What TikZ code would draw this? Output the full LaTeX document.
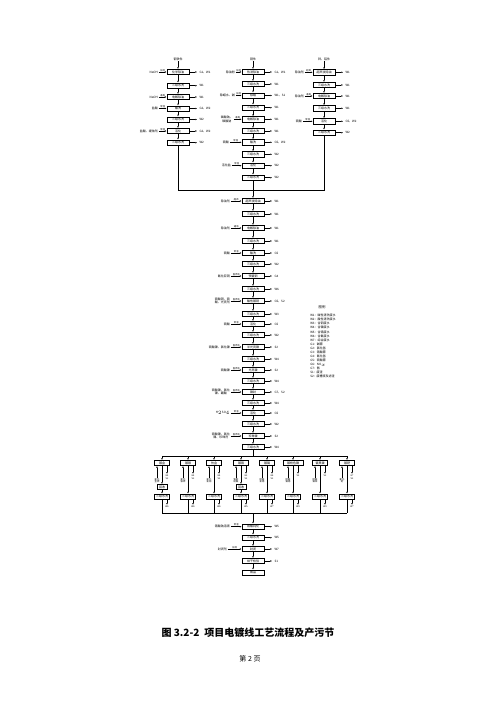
\documentclass[tikz,border=0pt]{standalone}
\usepackage{fontspec}
\setmainfont{Noto Sans CJK SC}
\usetikzlibrary{positioning,arrows.meta}

\tikzset{
  box/.style={draw, minimum width=22pt, minimum height=5.4pt, inner sep=0.2pt, font=\fontsize{3}{3.4}\selectfont},
  bbox/.style={box, minimum width=15pt},
  sbox/.style={box, minimum width=10pt},
  tag/.style={inner sep=0.6pt, align=center, font=\fontsize{3}{3.4}\selectfont},
  outtag/.style={tag, inner sep=2pt},
  note/.style={inner sep=0.5pt, align=center, font=\fontsize{2.3}{2.6}\selectfont},
}

\begin{document}
\begin{tikzpicture}[x=1pt, y=-1pt, line width=0.5pt, >={Latex[length=2pt,width=1.6pt]}]
\useasboundingbox (0,0) rectangle (500,707);

% steel parts
\node[name=steel_top, tag] at (178,59) {钢铁件};
\node[name=steel_1, box] at (178,72) {化学除油};
\node[name=steel_2, box] at (178,85.7) {三级水洗};
\node[name=steel_3, box] at (178,97) {电解除油};
\node[name=steel_4, box] at (178,108.5) {酸洗};
\node[name=steel_5, box] at (178,119.5) {三级水洗};
\node[name=steel_6, box] at (178,131) {活化};
\node[name=steel_7, box] at (178,142.7) {三级水洗};
\node[name=steel_1_in, tag, left=8pt of steel_1] {NaOH};
\node[name=steel_3_in, tag, left=8pt of steel_3] {NaOH};
\node[name=steel_4_in, tag, left=8pt of steel_4] {盐酸};
\node[name=steel_6_in, tag, left=8pt of steel_6] {盐酸、缓蚀剂};
\node[name=steel_1_out, outtag, right=8pt of steel_1] {G1、W1};
\node[name=steel_2_out, outtag, right=8pt of steel_2] {W1};
\node[name=steel_3_out, outtag, right=8pt of steel_3] {W1};
\node[name=steel_4_out, outtag, right=8pt of steel_4] {G2、W2};
\node[name=steel_5_out, outtag, right=8pt of steel_5] {W2};
\node[name=steel_6_out, outtag, right=8pt of steel_6] {G2、W2};
\node[name=steel_7_out, outtag, right=8pt of steel_7] {W2};

\draw(steel_top.south) edge[->](steel_1.north);
\draw(steel_1.south) edge[->](steel_2.north);
\draw(steel_2.south) edge[->](steel_3.north);
\draw(steel_3.south) edge[->](steel_4.north);
\draw(steel_4.south) edge[->](steel_5.north);
\draw(steel_5.south) edge[->](steel_6.north);
\draw(steel_6.south) edge[->](steel_7.north);
\draw(steel_1_in.east) edge[->]node[note,above]{加热}(steel_1.west);
\draw(steel_3_in.east) edge[->]node[note,above]{通电}(steel_3.west);
\draw(steel_4_in.east) edge[->]node[note,above]{常温}(steel_4.west);
\draw(steel_6_in.east) edge[->]node[note,above]{常温}(steel_6.west);
\draw(steel_1.east) edge[->](steel_1_out.west);
\draw(steel_2.east) edge[->](steel_2_out.west);
\draw(steel_3.east) edge[->](steel_3_out.west);
\draw(steel_4.east) edge[->](steel_4_out.west);
\draw(steel_5.east) edge[->](steel_5_out.west);
\draw(steel_6.east) edge[->](steel_6_out.west);
\draw(steel_7.east) edge[->](steel_7_out.west);

% copper parts
\node[name=copper_top, tag] at (253,59) {铜件};
\node[name=copper_1, box] at (253,72) {热浸除油};
\node[name=copper_2, box] at (253,84) {三级水洗};
\node[name=copper_3, box] at (253,95.5) {除蜡};
\node[name=copper_4, box] at (253,107.7) {三级水洗};
\node[name=copper_5, box] at (253,119.3) {电解除油};
\node[name=copper_6, box] at (253,131) {三级水洗};
\node[name=copper_7, box] at (253,142.3) {酸洗};
\node[name=copper_8, box] at (253,154.3) {三级水洗};
\node[name=copper_9, box] at (253,165.7) {活化};
\node[name=copper_10, box] at (253,177.7) {三级水洗};
\node[name=copper_1_in, tag, left=6pt of copper_1] {除油粉};
\node[name=copper_3_in, tag, left=6pt of copper_3] {除蜡水、碱};
\node[name=copper_5_in, tag, left=8pt of copper_5] {磷酸钠、\\碳酸钠};
\node[name=copper_7_in, tag, left=12pt of copper_7] {硫酸};
\node[name=copper_9_in, tag, left=10pt of copper_9] {活化盐};
\node[name=copper_1_out, outtag, right=8pt of copper_1] {G1、W1};
\node[name=copper_2_out, outtag, right=8pt of copper_2] {W1};
\node[name=copper_3_out, outtag, right=8pt of copper_3] {W1、S1};
\node[name=copper_4_out, outtag, right=8pt of copper_4] {W1};
\node[name=copper_5_out, outtag, right=8pt of copper_5] {W1};
\node[name=copper_6_out, outtag, right=8pt of copper_6] {W1};
\node[name=copper_7_out, outtag, right=8pt of copper_7] {G5、W2};
\node[name=copper_8_out, outtag, right=8pt of copper_8] {W2};
\node[name=copper_9_out, outtag, right=8pt of copper_9] {W2};
\node[name=copper_10_out, outtag, right=8pt of copper_10] {W2};

\draw(copper_top.south) edge[->](copper_1.north);
\draw(copper_1.south) edge[->](copper_2.north);
\draw(copper_2.south) edge[->](copper_3.north);
\draw(copper_3.south) edge[->](copper_4.north);
\draw(copper_4.south) edge[->](copper_5.north);
\draw(copper_5.south) edge[->](copper_6.north);
\draw(copper_6.south) edge[->](copper_7.north);
\draw(copper_7.south) edge[->](copper_8.north);
\draw(copper_8.south) edge[->](copper_9.north);
\draw(copper_9.south) edge[->](copper_10.north);
\draw(copper_1_in.east) edge[->]node[note,above]{加热}(copper_1.west);
\draw(copper_3_in.east) edge[->]node[note,above]{加热}(copper_3.west);
\draw(copper_5_in.east) edge[->]node[note,above]{通电}(copper_5.west);
\draw(copper_7_in.east) edge[->]node[note,above]{常温}(copper_7.west);
\draw(copper_9_in.east) edge[->]node[note,above]{常温}(copper_9.west);
\draw(copper_1.east) edge[->](copper_1_out.west);
\draw(copper_2.east) edge[->](copper_2_out.west);
\draw(copper_3.east) edge[->](copper_3_out.west);
\draw(copper_4.east) edge[->](copper_4_out.west);
\draw(copper_5.east) edge[->](copper_5_out.west);
\draw(copper_6.east) edge[->](copper_6_out.west);
\draw(copper_7.east) edge[->](copper_7_out.west);
\draw(copper_8.east) edge[->](copper_8_out.west);
\draw(copper_9.east) edge[->](copper_9_out.west);
\draw(copper_10.east) edge[->](copper_10_out.west);

% zinc / aluminium parts
\node[name=zinc_top, tag] at (324,59) {锌、铝件};
\node[name=zinc_1, box] at (324,72.3) {超声波除油};
\node[name=zinc_2, box] at (324,85) {三级水洗};
\node[name=zinc_3, box] at (324,96) {电解除油};
\node[name=zinc_4, box] at (324,108.3) {三级水洗};
\node[name=zinc_5, box] at (324,121.3) {活化};
\node[name=zinc_6, box] at (324,132.7) {三级水洗};
\node[name=zinc_1_in, tag, left=8pt of zinc_1] {除油剂};
\node[name=zinc_3_in, tag, left=8pt of zinc_3] {除油剂};
\node[name=zinc_5_in, tag, left=10pt of zinc_5] {硫酸};
\node[name=zinc_1_out, outtag, right=8pt of zinc_1] {W1};
\node[name=zinc_2_out, outtag, right=8pt of zinc_2] {W1};
\node[name=zinc_3_out, outtag, right=8pt of zinc_3] {W1};
\node[name=zinc_4_out, outtag, right=8pt of zinc_4] {W1};
\node[name=zinc_5_out, outtag, right=8pt of zinc_5] {G5、W2};
\node[name=zinc_6_out, outtag, right=8pt of zinc_6] {W2};

\draw(zinc_top.south) edge[->](zinc_1.north);
\draw(zinc_1.south) edge[->](zinc_2.north);
\draw(zinc_2.south) edge[->](zinc_3.north);
\draw(zinc_3.south) edge[->](zinc_4.north);
\draw(zinc_4.south) edge[->](zinc_5.north);
\draw(zinc_5.south) edge[->](zinc_6.north);
\draw(zinc_1_in.east) edge[->]node[note,above]{超声}(zinc_1.west);
\draw(zinc_3_in.east) edge[->]node[note,above]{通电}(zinc_3.west);
\draw(zinc_5_in.east) edge[->]node[note,above]{常温}(zinc_5.west);
\draw(zinc_1.east) edge[->](zinc_1_out.west);
\draw(zinc_2.east) edge[->](zinc_2_out.west);
\draw(zinc_3.east) edge[->](zinc_3_out.west);
\draw(zinc_4.east) edge[->](zinc_4_out.west);
\draw(zinc_5.east) edge[->](zinc_5_out.west);
\draw(zinc_6.east) edge[->](zinc_6_out.west);

% main line
\node[name=main_1, box] at (253,201) {超声波除油};
\node[name=main_2, box] at (253,214) {三级水洗};
\node[name=main_3, box] at (253,228) {电解除油};
\node[name=main_4, box] at (253,241) {三级水洗};
\node[name=main_5, box] at (253,253) {酸洗};
\node[name=main_6, box] at (253,264) {三级水洗};
\node[name=main_7, box] at (253,276) {预镀铜};
\node[name=main_8, box] at (253,289) {三级水洗};
\node[name=main_9, box] at (253,301) {酸性镀铜};
\node[name=main_10, box] at (253,314) {三级水洗};
\node[name=main_11, box] at (253,324) {活化};
\node[name=main_12, box] at (253,335) {三级水洗};
\node[name=main_13, box] at (253,347) {半光亮镍};
\node[name=main_14, box] at (253,359) {三级水洗};
\node[name=main_15, box] at (253,370) {光亮镍};
\node[name=main_16, box] at (253,381) {三级水洗};
\node[name=main_17, box] at (253,392) {镍封};
\node[name=main_18, box] at (253,403) {三级水洗};
\node[name=main_19, box] at (253,413) {活化};
\node[name=main_20, box] at (253,424) {三级水洗};
\node[name=main_21, box] at (253,436) {珍珠镍};
\node[name=main_22, box] at (253,447) {三级水洗};
\node[name=main_1_in, tag, left=11pt of main_1] {除油剂};
\node[name=main_3_in, tag, left=11pt of main_3] {除油剂};
\node[name=main_5_in, tag, left=11pt of main_5] {硫酸};
\node[name=main_7_in, tag, left=11pt of main_7] {氰化亚铜};
\node[name=main_9_in, tag, left=11pt of main_9] {硫酸铜、硫\\酸、光亮剂};
\node[name=main_11_in, tag, left=11pt of main_11] {硫酸};
\node[name=main_13_in, tag, left=11pt of main_13] {硫酸镍、氯化镍};
\node[name=main_15_in, tag, left=11pt of main_15] {硫酸镍};
\node[name=main_17_in, tag, left=11pt of main_17] {硫酸镍、氯化\\镍、硼酸};
\node[name=main_19_in, tag, left=11pt of main_19] {H$_2$SO$_4$};
\node[name=main_21_in, tag, left=11pt of main_21] {硫酸镍、氯化\\镍、珍珠剂};
\node[name=main_1_out, outtag, right=8pt of main_1] {W1};
\node[name=main_2_out, outtag, right=8pt of main_2] {W1};
\node[name=main_3_out, outtag, right=8pt of main_3] {W1};
\node[name=main_4_out, outtag, right=8pt of main_4] {W1};
\node[name=main_5_out, outtag, right=8pt of main_5] {G5};
\node[name=main_6_out, outtag, right=8pt of main_6] {W2};
\node[name=main_7_out, outtag, right=8pt of main_7] {G4};
\node[name=main_8_out, outtag, right=8pt of main_8] {W6};
\node[name=main_9_out, outtag, right=8pt of main_9] {G5、S2};
\node[name=main_10_out, outtag, right=8pt of main_10] {W3};
\node[name=main_11_out, outtag, right=8pt of main_11] {G5};
\node[name=main_12_out, outtag, right=8pt of main_12] {W2};
\node[name=main_13_out, outtag, right=8pt of main_13] {S2};
\node[name=main_14_out, outtag, right=8pt of main_14] {W4};
\node[name=main_15_out, outtag, right=8pt of main_15] {S2};
\node[name=main_16_out, outtag, right=8pt of main_16] {W4};
\node[name=main_17_out, outtag, right=8pt of main_17] {G7、S2};
\node[name=main_18_out, outtag, right=8pt of main_18] {W4};
\node[name=main_19_out, outtag, right=8pt of main_19] {G5};
\node[name=main_20_out, outtag, right=8pt of main_20] {W2};
\node[name=main_21_out, outtag, right=8pt of main_21] {S2};
\node[name=main_22_out, outtag, right=8pt of main_22] {W4};

\coordinate (merge) at (253,190);
\draw(steel_7.south) |- (merge);
\draw(zinc_6.south) |- (merge);
\draw(copper_10.south) edge[->](main_1.north);
\draw(main_1.south) edge[->](main_2.north);
\draw(main_2.south) edge[->](main_3.north);
\draw(main_3.south) edge[->](main_4.north);
\draw(main_4.south) edge[->](main_5.north);
\draw(main_5.south) edge[->](main_6.north);
\draw(main_6.south) edge[->](main_7.north);
\draw(main_7.south) edge[->](main_8.north);
\draw(main_8.south) edge[->](main_9.north);
\draw(main_9.south) edge[->](main_10.north);
\draw(main_10.south) edge[->](main_11.north);
\draw(main_11.south) edge[->](main_12.north);
\draw(main_12.south) edge[->](main_13.north);
\draw(main_13.south) edge[->](main_14.north);
\draw(main_14.south) edge[->](main_15.north);
\draw(main_15.south) edge[->](main_16.north);
\draw(main_16.south) edge[->](main_17.north);
\draw(main_17.south) edge[->](main_18.north);
\draw(main_18.south) edge[->](main_19.north);
\draw(main_19.south) edge[->](main_20.north);
\draw(main_20.south) edge[->](main_21.north);
\draw(main_21.south) edge[->](main_22.north);
\draw(main_1_in.east) edge[->]node[note,above]{超声}(main_1.west);
\draw(main_3_in.east) edge[->]node[note,above]{通电}(main_3.west);
\draw(main_5_in.east) edge[->]node[note,above]{常温}(main_5.west);
\draw(main_7_in.east) edge[->]node[note,above]{直流电}(main_7.west);
\draw(main_9_in.east) edge[->]node[note,above]{直流电}(main_9.west);
\draw(main_11_in.east) edge[->]node[note,above]{常温}(main_11.west);
\draw(main_13_in.east) edge[->]node[note,above]{直流电}(main_13.west);
\draw(main_15_in.east) edge[->]node[note,above]{直流电}(main_15.west);
\draw(main_17_in.east) edge[->]node[note,above]{直流电}(main_17.west);
\draw(main_19_in.east) edge[->]node[note,above]{常温}(main_19.west);
\draw(main_21_in.east) edge[->]node[note,above]{直流电}(main_21.west);
\draw(main_1.east) edge[->](main_1_out.west);
\draw(main_2.east) edge[->](main_2_out.west);
\draw(main_3.east) edge[->](main_3_out.west);
\draw(main_4.east) edge[->](main_4_out.west);
\draw(main_5.east) edge[->](main_5_out.west);
\draw(main_6.east) edge[->](main_6_out.west);
\draw(main_7.east) edge[->](main_7_out.west);
\draw(main_8.east) edge[->](main_8_out.west);
\draw(main_9.east) edge[->](main_9_out.west);
\draw(main_10.east) edge[->](main_10_out.west);
\draw(main_11.east) edge[->](main_11_out.west);
\draw(main_12.east) edge[->](main_12_out.west);
\draw(main_13.east) edge[->](main_13_out.west);
\draw(main_14.east) edge[->](main_14_out.west);
\draw(main_15.east) edge[->](main_15_out.west);
\draw(main_16.east) edge[->](main_16_out.west);
\draw(main_17.east) edge[->](main_17_out.west);
\draw(main_18.east) edge[->](main_18_out.west);
\draw(main_19.east) edge[->](main_19_out.west);
\draw(main_20.east) edge[->](main_20_out.west);
\draw(main_21.east) edge[->](main_21_out.west);
\draw(main_22.east) edge[->](main_22_out.west);

% parallel plating branches
\node[name=branch_1, bbox] at (162,463) {镀金};
\node[name=branch_2, bbox] at (188,463) {镀银};
\node[name=branch_3, bbox] at (214,463) {仿金};
\node[name=branch_4, bbox] at (241,463) {镀铬};
\node[name=branch_5, bbox] at (267,463) {镀锡};
\node[name=branch_6, bbox, minimum width=20pt] at (293,463) {镀枪色镍};
\node[name=branch_7, bbox] at (320,463) {镀黑镍};
\node[name=branch_8, bbox] at (347,463) {镀钯};
\node[name=branch_1_in, note, anchor=north] at (157,477.5) {氰化\\金钾};
\node[name=branch_2_in, note, anchor=north] at (183,477.5) {氰化\\银钾};
\node[name=branch_3_in, note, anchor=north] at (209,477.5) {氰化\\亚铜};
\node[name=branch_4_in, note, anchor=north] at (236,477.5) {铬酐\\硫酸};
\node[name=branch_5_in, note, anchor=north] at (262,477.5) {硫酸\\亚锡};
\node[name=branch_6_in, note, anchor=north] at (288,477.5) {硫酸\\镍锡};
\node[name=branch_7_in, note, anchor=north] at (315,477.5) {硫酸\\镍锌};
\node[name=branch_8_in, note, anchor=north] at (342,477.5) {氯化\\钯};
\node[name=branch_1_out, note, anchor=north] at (167,474) {G4\\S2};
\node[name=branch_2_out, note, anchor=north] at (193,474) {G4\\S2};
\node[name=branch_3_out, note, anchor=north] at (219,474) {G4\\S2};
\node[name=branch_4_out, note, anchor=north] at (246,474) {G3\\S2};
\node[name=branch_5_out, note, anchor=north] at (272,474) {G5\\S2};
\node[name=branch_6_out, note, anchor=north] at (298,474) {S2};
\node[name=branch_7_out, note, anchor=north] at (325,474) {S2};
\node[name=branch_8_out, note, anchor=north] at (352,474) {G7\\S2};
\node[name=recover_1, sbox] at (162,487) {回收};
\node[name=recover_4, sbox] at (241,487) {回收};
\node[name=rinse_1, bbox] at (162,496.7) {三级水洗};
\node[name=rinse_2, bbox] at (188,496.7) {三级水洗};
\node[name=rinse_3, bbox] at (214,496.7) {三级水洗};
\node[name=rinse_4, bbox] at (241,496.7) {三级水洗};
\node[name=rinse_5, bbox] at (267,496.7) {三级水洗};
\node[name=rinse_6, bbox] at (293,496.7) {三级水洗};
\node[name=rinse_7, bbox] at (320,496.7) {三级水洗};
\node[name=rinse_8, bbox] at (347,496.7) {三级水洗};
\node[name=rinse_1_out, note, anchor=north] at (167,505) {W6};
\node[name=rinse_2_out, note, anchor=north] at (193,505) {W6};
\node[name=rinse_3_out, note, anchor=north] at (219,505) {W6};
\node[name=rinse_4_out, note, anchor=north] at (246,505) {W5};
\node[name=rinse_5_out, note, anchor=north] at (272,505) {W7};
\node[name=rinse_6_out, note, anchor=north] at (298,505) {W4};
\node[name=rinse_7_out, note, anchor=north] at (325,505) {W4};
\node[name=rinse_8_out, note, anchor=north] at (352,505) {W7};

\coordinate (split) at (253,456);
\draw(main_22.south) -- (split);
\draw(branch_1.north |- split) -- (branch_8.north |- split);
\draw(branch_1.north |- split) edge[->](branch_1.north);
\draw(branch_2.north |- split) edge[->](branch_2.north);
\draw(branch_3.north |- split) edge[->](branch_3.north);
\draw(branch_4.north |- split) edge[->](branch_4.north);
\draw(branch_5.north |- split) edge[->](branch_5.north);
\draw(branch_6.north |- split) edge[->](branch_6.north);
\draw(branch_7.north |- split) edge[->](branch_7.north);
\draw(branch_8.north |- split) edge[->](branch_8.north);
\draw(branch_1_in.north) edge[->](branch_1_in.north |- branch_1.south);
\draw(branch_2_in.north) edge[->](branch_2_in.north |- branch_2.south);
\draw(branch_3_in.north) edge[->](branch_3_in.north |- branch_3.south);
\draw(branch_4_in.north) edge[->](branch_4_in.north |- branch_4.south);
\draw(branch_5_in.north) edge[->](branch_5_in.north |- branch_5.south);
\draw(branch_6_in.north) edge[->](branch_6_in.north |- branch_6.south);
\draw(branch_7_in.north) edge[->](branch_7_in.north |- branch_7.south);
\draw(branch_8_in.north) edge[->](branch_8_in.north |- branch_8.south);
\draw(branch_1.south -| branch_1_out.north) edge[->](branch_1_out.north);
\draw(branch_2.south -| branch_2_out.north) edge[->](branch_2_out.north);
\draw(branch_3.south -| branch_3_out.north) edge[->](branch_3_out.north);
\draw(branch_4.south -| branch_4_out.north) edge[->](branch_4_out.north);
\draw(branch_5.south -| branch_5_out.north) edge[->](branch_5_out.north);
\draw(branch_6.south -| branch_6_out.north) edge[->](branch_6_out.north);
\draw(branch_7.south -| branch_7_out.north) edge[->](branch_7_out.north);
\draw(branch_8.south -| branch_8_out.north) edge[->](branch_8_out.north);
\draw(branch_1.south) edge[->](recover_1.north);
\draw(recover_1.south) edge[->](rinse_1.north);
\draw(branch_2.south) edge[->](rinse_2.north);
\draw(branch_3.south) edge[->](rinse_3.north);
\draw(branch_4.south) edge[->](recover_4.north);
\draw(recover_4.south) edge[->](rinse_4.north);
\draw(branch_5.south) edge[->](rinse_5.north);
\draw(branch_6.south) edge[->](rinse_6.north);
\draw(branch_7.south) edge[->](rinse_7.north);
\draw(branch_8.south) edge[->](rinse_8.north);
\draw(rinse_1.south -| rinse_1_out.north) edge[->](rinse_1_out.north);
\draw(rinse_2.south -| rinse_2_out.north) edge[->](rinse_2_out.north);
\draw(rinse_3.south -| rinse_3_out.north) edge[->](rinse_3_out.north);
\draw(rinse_4.south -| rinse_4_out.north) edge[->](rinse_4_out.north);
\draw(rinse_5.south -| rinse_5_out.north) edge[->](rinse_5_out.north);
\draw(rinse_6.south -| rinse_6_out.north) edge[->](rinse_6_out.north);
\draw(rinse_7.south -| rinse_7_out.north) edge[->](rinse_7_out.north);
\draw(rinse_8.south -| rinse_8_out.north) edge[->](rinse_8_out.north);

% collect and finish
\coordinate (collect) at (253,513);
\draw(rinse_1.south) -- (rinse_1.south |- collect);
\draw(rinse_2.south) -- (rinse_2.south |- collect);
\draw(rinse_3.south) -- (rinse_3.south |- collect);
\draw(rinse_4.south) -- (rinse_4.south |- collect);
\draw(rinse_5.south) -- (rinse_5.south |- collect);
\draw(rinse_6.south) -- (rinse_6.south |- collect);
\draw(rinse_7.south) -- (rinse_7.south |- collect);
\draw(rinse_8.south) -- (rinse_8.south |- collect);
\draw(rinse_1.south |- collect) -- (rinse_8.south |- collect);

\node[name=final_1, box] at (253,526.7) {铬酸钝化};
\node[name=final_2, box] at (253,537.7) {三级水洗};
\node[name=final_3, box] at (253,549) {封闭};
\node[name=final_4, box] at (253,561) {烘干检验};
\node[name=final_5, box] at (253,572.7) {成品};
\node[name=final_1_in, tag, left=11pt of final_1] {铬酸钠溶液};
\node[name=final_3_in, tag, left=14pt of final_3] {封闭剂};
\node[name=final_1_out, outtag, right=8pt of final_1] {W5};
\node[name=final_2_out, outtag, right=8pt of final_2] {W5};
\node[name=final_3_out, outtag, right=8pt of final_3] {W7};
\node[name=final_4_out, outtag, right=8pt of final_4] {S1};

\draw(collect) edge[->](final_1.north);
\draw(final_1.south) edge[->](final_2.north);
\draw(final_2.south) edge[->](final_3.north);
\draw(final_3.south) edge[->](final_4.north);
\draw(final_4.south) edge[->](final_5.north);
\draw(final_1_in.east) edge[->]node[note,above]{常温}(final_1.west);
\draw(final_3_in.east) edge[->]node[note,above]{加热}(final_3.west);
\draw(final_1.east) edge[->](final_1_out.west);
\draw(final_2.east) edge[->](final_2_out.west);
\draw(final_3.east) edge[->](final_3_out.west);
\draw(final_4.east) edge[->](final_4_out.west);

% legend
\node[name=legend, tag, font=\fontsize{3.4}{4}\selectfont] at (322,307) {图例};
\node[name=legend_list, anchor=north west, align=left, inner sep=0pt, font=\fontsize{3}{4.07}\selectfont] at (310,314) {%
W1：碱性清洗废水\\W2：酸性清洗废水\\W3：含铜废水\\W4：含镍废水\\W5：含铬废水\\W6：含氰废水\\W7：综合废水\\%
G1：碱雾\\G2：氯化氢\\G3：铬酸雾\\G4：氰化氢\\G5：硫酸雾\\G6：NO$_x$\\G7：氨\\S1：废渣\\S2：废槽液及滤渣};

% caption
\node[name=caption, font=\fontsize{10}{12}\selectfont\bfseries] at (248,633) {图 3.2-2\enspace 项目电镀线工艺流程及产污节};
\node[name=page_no, font=\fontsize{7}{8}\selectfont] at (250,659) {第 2 页};
\end{tikzpicture}
\end{document}
